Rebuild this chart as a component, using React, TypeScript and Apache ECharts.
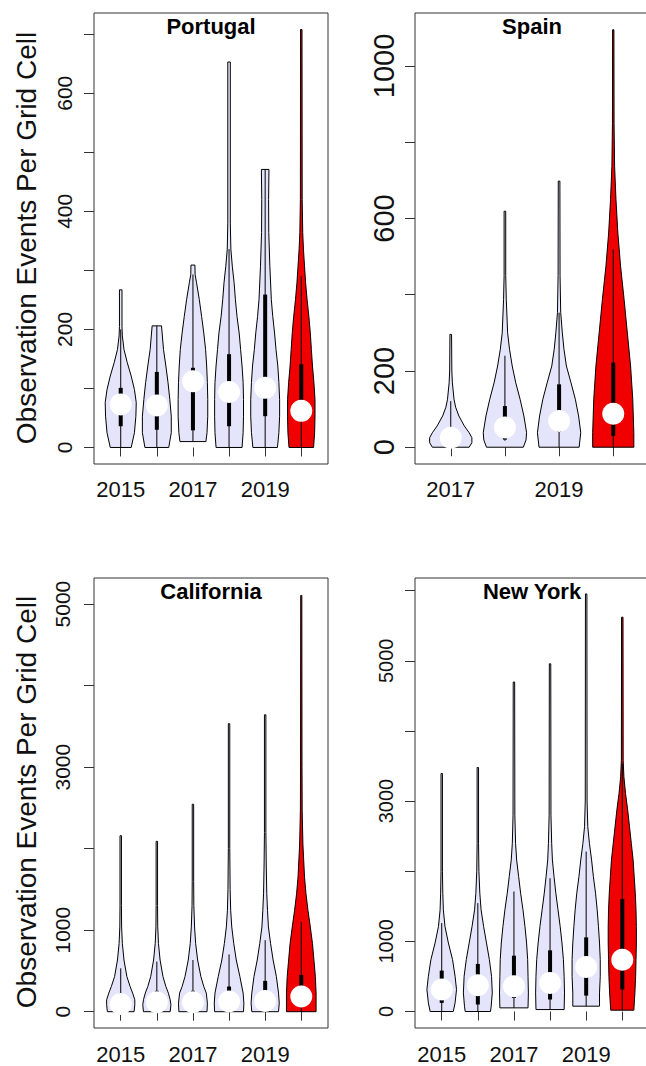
import React, { useEffect, useRef } from "react";
import * as echarts from "echarts";

const FONT = "'Liberation Sans', Arial, Helvetica, sans-serif";
const LAVENDER = "#E4E4FA";
const RED = "#F00000";
const Y_TITLE = "Observation Events Per Grid Cell";

// ---------- Portugal ----------
const portugalYears = [2015, 2016, 2017, 2018, 2019, 2020];
// violin outline: [value, half-width in category units]
const portugalProfiles = [
  [[0, 0.29], [25, 0.38], [53, 0.42], [76, 0.43], [98, 0.38], [121, 0.29], [144, 0.18], [166, 0.09], [189, 0.045], [205, 0.035], [267, 0.035]],
  [[0, 0.33], [25, 0.4], [53, 0.4], [81, 0.36], [110, 0.31], [138, 0.25], [166, 0.185], [206, 0.13]],
  [[10, 0.36], [25, 0.39], [53, 0.41], [81, 0.41], [110, 0.4], [138, 0.38], [166, 0.35], [194, 0.3], [222, 0.24], [251, 0.175], [279, 0.1], [293, 0.06], [309, 0.055]],
  [[0, 0.36], [25, 0.39], [53, 0.4], [81, 0.4], [110, 0.39], [138, 0.36], [166, 0.32], [194, 0.28], [222, 0.22], [251, 0.175], [279, 0.14], [307, 0.09], [336, 0.05], [380, 0.035], [653, 0.035]],
  [[0, 0.34], [25, 0.38], [53, 0.4], [81, 0.4], [110, 0.38], [138, 0.35], [166, 0.3], [194, 0.26], [222, 0.21], [251, 0.17], [307, 0.13], [364, 0.1], [420, 0.095], [471, 0.105]],
  [[0, 0.34], [25, 0.37], [53, 0.38], [81, 0.38], [110, 0.35], [138, 0.31], [166, 0.28], [194, 0.25], [222, 0.21], [251, 0.16], [279, 0.12], [307, 0.09], [336, 0.06], [364, 0.04], [420, 0.025], [708, 0.02]],
];
// [whisker low, Q1, median, Q3, whisker high]
const portugalStats = [
  [0, 36, 73, 101, 200],
  [0, 30, 71, 128, 206],
  [10, 29, 112, 135, 293],
  [0, 36, 94, 158, 336],
  [0, 53, 101, 259, 471],
  [0, 45, 62, 141, 290],
];
const portugalYTicks = [0, 100, 200, 300, 400, 500, 600, 700];
const portugalYLabels = [0, 200, 400, 600];
const portugalXLabels = [2015, 2017, 2019];

// ---------- Spain ----------
const spainYears = [2017, 2018, 2019, 2020];
const spainProfiles = [
  [[0, 0.34], [12, 0.39], [25, 0.39], [38, 0.34], [56, 0.25], [82, 0.15], [105, 0.09], [126, 0.06], [169, 0.03], [200, 0.02], [296, 0.015]],
  [[0, 0.34], [19, 0.39], [38, 0.4], [56, 0.38], [82, 0.35], [126, 0.28], [169, 0.2], [213, 0.135], [257, 0.085], [300, 0.05], [388, 0.025], [450, 0.015], [619, 0.015]],
  [[0, 0.37], [38, 0.4], [82, 0.36], [126, 0.3], [169, 0.22], [213, 0.135], [257, 0.09], [300, 0.06], [353, 0.03], [450, 0.018], [698, 0.015]],
  [[0, 0.38], [38, 0.38], [82, 0.37], [126, 0.36], [213, 0.32], [300, 0.26], [388, 0.2], [475, 0.135], [562, 0.085], [650, 0.05], [737, 0.025], [850, 0.015], [1095, 0.012]],
];
const spainStats = [
  [0, 10, 25, 45, 121],
  [17, 20, 52, 108, 240],
  [0, 40, 69, 165, 353],
  [0, 30, 88, 222, 519],
];
const spainYTicks = [0, 200, 400, 600, 800, 1000];
const spainYLabels = [0, 200, 600, 1000];
const spainXLabels = [2017, 2019];

// ---------- California ----------
const californiaYears = [2015, 2016, 2017, 2018, 2019, 2020];
const californiaProfiles = [
  [[0, 0.37], [85, 0.39], [146, 0.39], [228, 0.33], [309, 0.26], [431, 0.17], [634, 0.09], [837, 0.045], [1040, 0.025], [1300, 0.02], [2159, 0.02]],
  [[0, 0.37], [85, 0.39], [146, 0.37], [228, 0.32], [309, 0.25], [431, 0.17], [634, 0.09], [837, 0.045], [1040, 0.025], [1300, 0.02], [2090, 0.02]],
  [[0, 0.39], [105, 0.4], [228, 0.37], [309, 0.3], [431, 0.22], [634, 0.13], [837, 0.075], [1040, 0.045], [1300, 0.025], [1600, 0.02], [2545, 0.02]],
  [[0, 0.4], [105, 0.41], [228, 0.39], [431, 0.3], [634, 0.2], [837, 0.13], [1040, 0.075], [1244, 0.045], [1500, 0.03], [2000, 0.02], [3533, 0.02]],
  [[0, 0.37], [105, 0.39], [228, 0.37], [431, 0.31], [634, 0.22], [837, 0.15], [1040, 0.09], [1244, 0.065], [1447, 0.045], [1800, 0.03], [2200, 0.02], [3642, 0.02]],
  [[0, 0.41], [228, 0.41], [431, 0.39], [634, 0.35], [837, 0.31], [1040, 0.25], [1244, 0.185], [1447, 0.13], [1650, 0.09], [2057, 0.045], [2463, 0.025], [3000, 0.02], [5106, 0.015]],
];
const californiaStats = [
  [0, 40, 95, 228, 532],
  [0, 45, 115, 256, 614],
  [0, 45, 115, 256, 634],
  [0, 50, 125, 309, 703],
  [0, 60, 130, 378, 878],
  [0, 80, 187, 451, 1102],
];
const californiaYTicks = [0, 1000, 2000, 3000, 4000, 5000];
const californiaYLabels = [0, 1000, 3000, 5000];
const californiaXLabels = [2015, 2017, 2019];

// ---------- New York ----------
const newYorkYears = [2015, 2016, 2017, 2018, 2019, 2020];
const newYorkProfiles = [
  [[0, 0.32], [123, 0.37], [313, 0.41], [502, 0.37], [739, 0.3], [976, 0.185], [1213, 0.09], [1450, 0.045], [1687, 0.03], [2000, 0.02], [3393, 0.02]],
  [[0, 0.35], [76, 0.37], [265, 0.4], [502, 0.38], [739, 0.32], [976, 0.24], [1213, 0.16], [1450, 0.09], [1687, 0.055], [2000, 0.03], [2400, 0.02], [3479, 0.02]],
  [[52, 0.39], [265, 0.4], [502, 0.39], [739, 0.38], [976, 0.35], [1213, 0.305], [1450, 0.25], [1687, 0.185], [1924, 0.13], [2161, 0.075], [2398, 0.045], [2800, 0.025], [4697, 0.02]],
  [[28, 0.39], [265, 0.4], [502, 0.39], [739, 0.37], [976, 0.33], [1213, 0.28], [1450, 0.22], [1687, 0.16], [1924, 0.11], [2161, 0.065], [2398, 0.045], [2800, 0.025], [4957, 0.02]],
  [[76, 0.37], [265, 0.37], [502, 0.39], [739, 0.39], [976, 0.37], [1213, 0.34], [1450, 0.305], [1687, 0.26], [1924, 0.2], [2161, 0.15], [2398, 0.09], [2635, 0.045], [3000, 0.025], [5953, 0.02]],
  [[19, 0.32], [265, 0.35], [502, 0.37], [739, 0.38], [976, 0.39], [1213, 0.39], [1450, 0.38], [1687, 0.36], [1924, 0.33], [2161, 0.3], [2398, 0.25], [2635, 0.2], [2872, 0.15], [3109, 0.09], [3346, 0.045], [3583, 0.025], [5621, 0.02]],
];
const newYorkStats = [
  [0, 123, 313, 583, 1261],
  [0, 100, 374, 678, 1545],
  [52, 194, 360, 796, 1711],
  [28, 171, 408, 872, 1900],
  [76, 227, 635, 1057, 2280],
  [19, 313, 739, 1602, 3535],
];
const newYorkYTicks = [0, 1000, 2000, 3000, 4000, 5000, 6000];
const newYorkYLabels = [0, 1000, 3000, 5000];
const newYorkXLabels = [2015, 2017, 2019];

type Panel = {
  name: string;
  years: number[];
  profiles: number[][][];
  stats: number[][];
  yTicks: number[];
  yLabels: number[];
  xLabels: number[];
  // layout
  left: number;
  top: number;
  width: number;
  height: number;
  yMin: number;
  yMax: number;
  yLabelSize: number;
  yLabelMargin: number;
  xLabelMargin: number;
  titleX: number;
  titleY: number;
};

const panels: Panel[] = [
  {
    name: "Portugal", years: portugalYears, profiles: portugalProfiles, stats: portugalStats,
    yTicks: portugalYTicks, yLabels: portugalYLabels, xLabels: portugalXLabels,
    left: 94, top: 13, width: 234, height: 451, yMin: -28, yMax: 736,
    yLabelSize: 21, yLabelMargin: 19, xLabelMargin: 14, titleX: 211, titleY: 26,
  },
  {
    name: "Spain", years: spainYears, profiles: spainProfiles, stats: spainStats,
    yTicks: spainYTicks, yLabels: spainYLabels, xLabels: spainXLabels,
    left: 415, top: 13, width: 234, height: 451, yMin: -44, yMax: 1139,
    yLabelSize: 29, yLabelMargin: 17, xLabelMargin: 14, titleX: 532, titleY: 26,
  },
  {
    name: "California", years: californiaYears, profiles: californiaProfiles, stats: californiaStats,
    yTicks: californiaYTicks, yLabels: californiaYLabels, xLabels: californiaXLabels,
    left: 94, top: 578, width: 234, height: 450, yMin: -200, yMax: 5320,
    yLabelSize: 21, yLabelMargin: 21, xLabelMargin: 15, titleX: 211, titleY: 591,
  },
  {
    name: "New York", years: newYorkYears, profiles: newYorkProfiles, stats: newYorkStats,
    yTicks: newYorkYTicks, yLabels: newYorkYLabels, xLabels: newYorkXLabels,
    left: 415, top: 578, width: 234, height: 450, yMin: -235, yMax: 6180,
    yLabelSize: 20, yLabelMargin: 19, xLabelMargin: 15, titleX: 532, titleY: 591,
  },
];

function makeRenderItem(p: Panel) {
  const n = p.years.length;
  return (params: any, api: any) => {
    const i = params.dataIndex;
    const x = api.value(0);
    const prof = p.profiles[i];
    const st = p.stats[i];
    const leftSide = prof.map(([v, hw]) => api.coord([x - hw, v]));
    const rightSide = prof
      .slice()
      .reverse()
      .map(([v, hw]) => api.coord([x + hw, v]));
    const pts = leftSide.concat(rightSide);
    const fill = i === n - 1 ? RED : LAVENDER;
    const lo = api.coord([x, st[0]]);
    const q1 = api.coord([x, st[1]]);
    const med = api.coord([x, st[2]]);
    const q3 = api.coord([x, st[3]]);
    const hi = api.coord([x, st[4]]);
    return {
      type: "group",
      children: [
        {
          type: "polygon",
          shape: { points: pts },
          style: { fill, stroke: "#000", lineWidth: 1 },
        },
        {
          type: "line",
          shape: { x1: lo[0], y1: lo[1], x2: hi[0], y2: hi[1] },
          style: { stroke: "#000", lineWidth: 1 },
        },
        {
          type: "rect",
          shape: { x: q3[0] - 2, y: q3[1], width: 4, height: q1[1] - q3[1] },
          style: { fill: "#000" },
        },
        {
          type: "circle",
          shape: { cx: med[0], cy: med[1], r: 11 },
          style: { fill: "#fff" },
        },
      ],
    };
  };
}

function buildOption() {
  const grid: any[] = [];
  const xAxis: any[] = [];
  const yAxis: any[] = [];
  const series: any[] = [];
  const graphic: any[] = [];

  panels.forEach((p, k) => {
    const n = p.years.length;
    grid.push({
      left: p.left,
      top: p.top,
      width: p.width,
      height: p.height,
      show: true,
      borderColor: "#333",
      borderWidth: 1,
      backgroundColor: "transparent",
      containLabel: false,
      outerBoundsMode: "none",
    });
    const tickIdx = p.years.map((_, i) => i + 1);
    const labelIdx = p.xLabels.map((y) => p.years.indexOf(y) + 1);
    xAxis.push({
      gridIndex: k,
      type: "value",
      min: 0.5 - 0.04 * n,
      max: n + 0.5 + 0.04 * n,
      axisLine: { show: false },
      splitLine: { show: false },
      axisTick: {
        show: true,
        length: 9,
        customValues: tickIdx,
        lineStyle: { color: "#333", width: 1 },
      },
      axisLabel: {
        show: true,
        customValues: labelIdx,
        formatter: (v: number) => String(p.years[Math.round(v) - 1]),
        fontSize: 22,
        fontFamily: FONT,
        color: "#111",
        margin: p.xLabelMargin,
      },
    });
    yAxis.push({
      gridIndex: k,
      type: "value",
      min: p.yMin,
      max: p.yMax,
      axisLine: { show: false },
      splitLine: { show: false },
      axisTick: {
        show: true,
        length: 10,
        customValues: p.yTicks,
        lineStyle: { color: "#333", width: 1 },
      },
      axisLabel: {
        show: true,
        customValues: p.yLabels,
        formatter: (v: number) => String(Math.round(v)),
        rotate: 90,
        fontSize: p.yLabelSize,
        fontFamily: FONT,
        color: "#111",
        margin: p.yLabelMargin,
      },
    });
    series.push({
      type: "custom",
      xAxisIndex: k,
      yAxisIndex: k,
      renderItem: makeRenderItem(p),
      encode: { x: 0, y: 1 },
      data: p.years.map((_, i) => [i + 1, p.stats[i][4]]),
      silent: true,
    });
    graphic.push({
      type: "text",
      x: p.titleX,
      y: p.titleY,
      style: {
        text: p.name,
        font: `bold 22px ${FONT}`,
        fill: "#000",
        align: "center",
        verticalAlign: "middle",
      },
    });
  });

  graphic.push({
    type: "text",
    x: 26,
    y: 238,
    rotation: Math.PI / 2,
    style: {
      text: Y_TITLE,
      font: `28px ${FONT}`,
      fill: "#111",
      align: "center",
      verticalAlign: "middle",
    },
  });
  graphic.push({
    type: "text",
    x: 26,
    y: 802,
    rotation: Math.PI / 2,
    style: {
      text: Y_TITLE,
      font: `28px ${FONT}`,
      fill: "#111",
      align: "center",
      verticalAlign: "middle",
    },
  });

  return {
    animation: false,
    backgroundColor: "#ffffff",
    grid,
    xAxis,
    yAxis,
    series,
    graphic,
  };
}

export default function App() {
  const ref = useRef<HTMLDivElement>(null);
  useEffect(() => {
    if (!ref.current) return;
    const chart = echarts.init(ref.current, undefined, { renderer: "svg" });
    chart.setOption(buildOption() as any);
    return () => chart.dispose();
  }, []);
  return (
    <div
      ref={ref}
      style={{ position: "fixed", left: 0, top: 0, width: 646, height: 1066, background: "#fff" }}
    />
  );
}
